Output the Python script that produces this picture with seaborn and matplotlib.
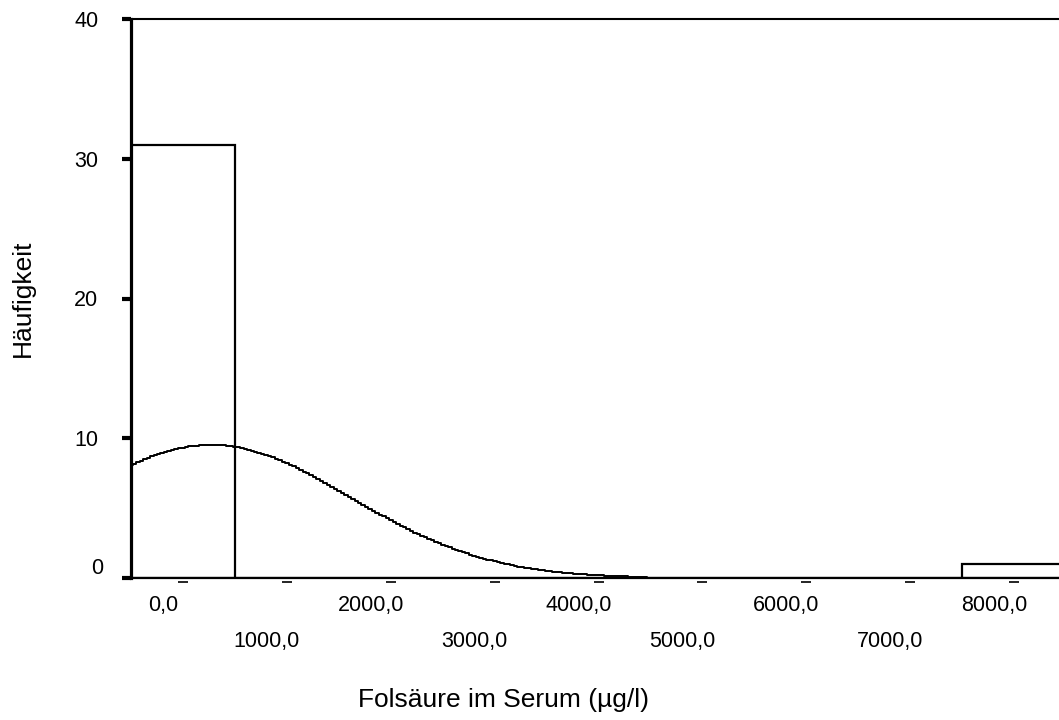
import numpy as np
import pandas as pd
import matplotlib
matplotlib.use("Agg")
import matplotlib.pyplot as plt
import matplotlib.transforms as mtransforms
import seaborn as sns

# Histogram of serum folic acid (bins of 1000 µg/l) with fitted normal curve
bin_centers = [0, 1000, 2000, 3000, 4000, 5000, 6000, 7000, 8000]
counts = [31, 0, 0, 0, 0, 0, 0, 0, 1]
bin_width = 1000
n_total = 32
mean_value = 270.0
sd_value = 1340.0
curve_start, curve_end = -500, 4470

x_ticks = [0, 1000, 2000, 3000, 4000, 5000, 6000, 7000, 8000]
x_tick_labels = ["0,0", "1000,0", "2000,0", "3000,0", "4000,0",
                 "5000,0", "6000,0", "7000,0", "8000,0"]
y_ticks = [0, 10, 20, 30, 40]
y_tick_labels = ["0", "10", "20", "30", "40"]

sns.set_theme(style="white")
plt.rcParams["font.family"] = ["Liberation Sans", "DejaVu Sans"]

fig = plt.figure(figsize=(10.59, 7.2), dpi=100)
ax = fig.add_axes([131 / 1059, 1 - 578 / 720, 935 / 1059, (578 - 19) / 720])

hist_df = pd.DataFrame({"center": bin_centers, "count": counts})
edges = [c - bin_width / 2 for c in bin_centers] + [bin_centers[-1] + bin_width / 2]
sns.histplot(data=hist_df, x="center", weights="count", bins=edges,
             fill=False, color="black", linewidth=1.6, ax=ax)

# normal curve scaled to counts per bin
xs = np.linspace(curve_start, curve_end, 150)
ys = n_total * bin_width / (sd_value * np.sqrt(2 * np.pi)) * \
    np.exp(-0.5 * ((xs - mean_value) / sd_value) ** 2)
sns.lineplot(x=xs, y=ys, color="black", linewidth=1.4,
             drawstyle="steps-mid", ax=ax)

ax.set_xlim(-500, 8500)
ax.set_ylim(0, 40)
ax.set_xlabel("")
ax.set_ylabel("")

for side in ["top", "bottom", "left"]:
    ax.spines[side].set_visible(True)
    ax.spines[side].set_color("black")
ax.spines["right"].set_visible(False)
ax.spines["left"].set_linewidth(2.3)
ax.spines["top"].set_linewidth(1.5)
ax.spines["bottom"].set_linewidth(1.6)

# y axis ticks
ax.set_yticks(y_ticks)
ax.set_yticklabels(y_tick_labels)
ax.tick_params(axis="y", direction="out", length=6.5, width=3,
               color="black", left=True, pad=17, labelsize=15.5,
               labelcolor="black")
zero_lbl = ax.get_yticklabels()[0]
zero_lbl.set_transform(zero_lbl.get_transform() +
                       mtransforms.ScaledTranslation(0.05, 0.12, fig.dpi_scale_trans))

# x axis: labels in two staggered rows, ticks as short detached dashes
ax.set_xticks(x_ticks[0::2])
ax.set_xticklabels(x_tick_labels[0::2])
ax.set_xticks(x_ticks[1::2], minor=True)
ax.set_xticklabels(x_tick_labels[1::2], minor=True)
ax.tick_params(axis="x", which="major", length=0, pad=12, labelsize=15.5,
               labelcolor="black")
ax.tick_params(axis="x", which="minor", length=0, pad=38, labelsize=15.5,
               labelcolor="black")
shift = mtransforms.ScaledTranslation(-0.2, 0, fig.dpi_scale_trans)
for lbl in ax.get_xticklabels() + ax.get_xticklabels(minor=True):
    lbl.set_transform(lbl.get_transform() + shift)

dash_tr = mtransforms.blended_transform_factory(ax.transData, ax.transAxes) + \
    mtransforms.ScaledTranslation(0, -0.035, fig.dpi_scale_trans)
ax.plot(x_ticks, [0] * len(x_ticks), linestyle="", marker="_",
        markersize=6.5, markeredgewidth=1.2, color="black",
        transform=dash_tr, clip_on=False)

fig.text(503 / 1059, 1 - 700 / 720, "Folsäure im Serum (µg/l)",
         ha="center", va="center", fontsize=19, color="black")
fig.text(23 / 1059, 1 - 298 / 720, "Häufigkeit", rotation=90,
         ha="center", va="center", fontsize=19, color="black")

fig.savefig("out.png", dpi=100, facecolor="white")
